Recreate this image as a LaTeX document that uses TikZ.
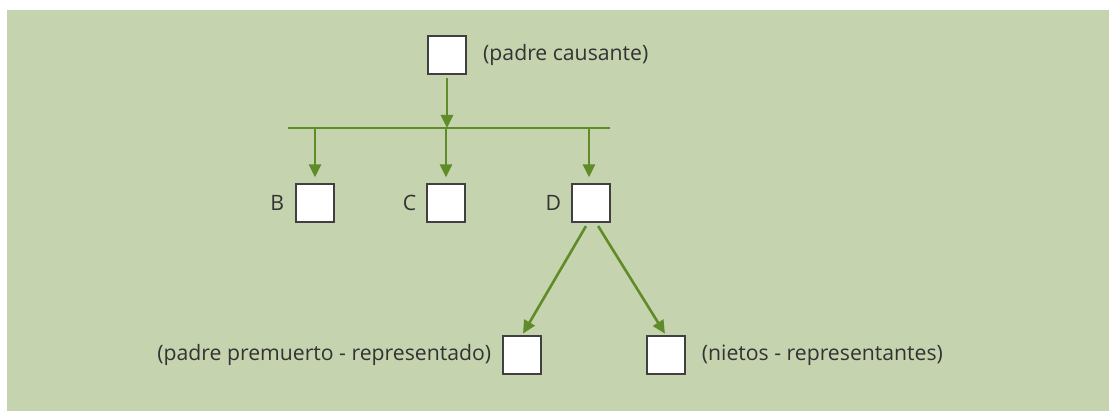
\documentclass[tikz,border=0pt]{standalone}
\usepackage{fontspec}
\setmainfont{Open Sans}
\usetikzlibrary{arrows.meta}
\definecolor{panelbg}{RGB}{197,211,175}
\definecolor{linkgreen}{RGB}{95,140,40}
\definecolor{textgray}{RGB}{51,51,51}
\begin{document}
\begin{tikzpicture}[x=1pt,y=-1pt,
  person/.style={draw=black!75, fill=white, line width=1.3pt, minimum size=38pt, inner sep=0pt},
  lbl/.style={text=textgray, font=\fontsize{21.2}{24}\selectfont, inner sep=0pt},
  link/.style={draw=linkgreen, line width=2.6pt},
  arr/.style={link, -{Triangle[length=13pt,width=12pt]}}]
\useasboundingbox (0,0) rectangle (1109,411);
\fill[panelbg] (7,10) rectangle (1109,411);

% people
\node[person] (top) at (447,55) {};
\node[person] (B) at (315,203) {};
\node[person] (C) at (446,203) {};
\node[person] (D) at (591,203) {};
\node[person] (L) at (522,355) {};
\node[person] (R) at (666,355) {};

% labels
\node[lbl, anchor=west] (ltop) at (483,55) {(padre causante)};
\node[lbl, anchor=east] (lB) at ([xshift=-11pt]B.west) {B};
\node[lbl, anchor=east] (lC) at ([xshift=-10pt]C.west) {C};
\node[lbl, anchor=east] (lD) at ([xshift=-10pt]D.west) {D};
\node[lbl, anchor=east] (lL) at ([xshift=-11pt]L.west) {(padre premuerto - representado)};
\node[lbl, anchor=west] (lR) at ([xshift=16pt]R.east) {(nietos - representantes)};

% branching bar
\coordinate (barL) at (288,128);
\coordinate (barR) at (610,128);
\coordinate (barM) at (top.south |- barL);
\draw[link] (barL) -- (barR);
\draw[arr, shorten <=3pt] (top.south) -- (barM);
\draw[arr, shorten >=6pt] (B.north |- barL) -- (B.north);
\draw[arr, shorten >=6pt] (C.north |- barL) -- (C.north);
\draw[arr, shorten >=6pt] ([xshift=-2pt]D.north |- barL) -- ([xshift=-2pt]D.north);

% descendants of D
\draw[arr, shorten <=4pt, shorten >=2pt] ([xshift=-3pt]D.south) -- (L.north);
\draw[arr, shorten <=4pt, shorten >=2pt] ([xshift=5pt]D.south) -- (R.north);
\end{tikzpicture}
\end{document}
